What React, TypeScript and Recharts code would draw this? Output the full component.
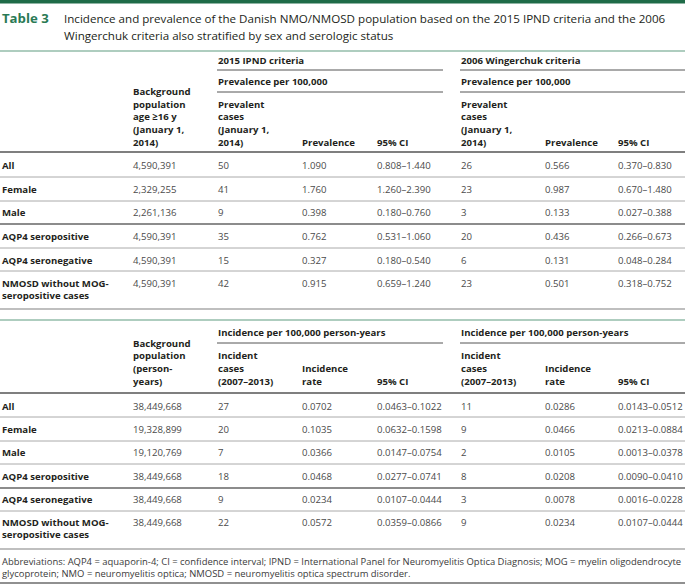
import { ScatterChart, Scatter, XAxis, YAxis, ReferenceLine, ReferenceArea } from "recharts";

const W = 685;
const H = 585;

// ---- table data ----
const ROW_LABELS = [
  ["All"],
  ["Female"],
  ["Male"],
  ["AQP4 seropositive"],
  ["AQP4 seronegative"],
  ["NMOSD without MOG-", "seropositive cases"],
];

const PREV_BACKGROUND = ["4,590,391", "2,329,255", "2,261,136", "4,590,391", "4,590,391", "4,590,391"];
const IPND_PREV_CASES = ["50", "41", "9", "35", "15", "42"];
const IPND_PREVALENCE = ["1.090", "1.760", "0.398", "0.762", "0.327", "0.915"];
const IPND_PREV_CI = ["0.808–1.440", "1.260–2.390", "0.180–0.760", "0.531–1.060", "0.180–0.540", "0.659–1.240"];
const WING_PREV_CASES = ["26", "23", "3", "20", "6", "23"];
const WING_PREVALENCE = ["0.566", "0.987", "0.133", "0.436", "0.131", "0.501"];
const WING_PREV_CI = ["0.370–0.830", "0.670–1.480", "0.027–0.388", "0.266–0.673", "0.048–0.284", "0.318–0.752"];

const INC_BACKGROUND = ["38,449,668", "19,328,899", "19,120,769", "38,449,668", "38,449,668", "38,449,668"];
const IPND_INC_CASES = ["27", "20", "7", "18", "9", "22"];
const IPND_INC_RATE = ["0.0702", "0.1035", "0.0366", "0.0468", "0.0234", "0.0572"];
const IPND_INC_CI = ["0.0463–0.1022", "0.0632–0.1598", "0.0147–0.0754", "0.0277–0.0741", "0.0107–0.0444", "0.0359–0.0866"];
const WING_INC_CASES = ["11", "9", "2", "8", "3", "9"];
const WING_INC_RATE = ["0.0286", "0.0466", "0.0105", "0.0208", "0.0078", "0.0234"];
const WING_INC_CI = ["0.0143–0.0512", "0.0213–0.0884", "0.0013–0.0378", "0.0090–0.0410", "0.0016–0.0228", "0.0107–0.0444"];

const TITLE_LINES = [
  "Incidence and prevalence of the Danish NMO/NMOSD population based on the 2015 IPND criteria and the 2006",
  "Wingerchuk criteria also stratified by sex and serologic status",
];
const FOOTNOTE_LINES = [
  "Abbreviations: AQP4 = aquaporin-4; CI = confidence interval; IPND = International Panel for Neuromyelitis Optica Diagnosis; MOG = myelin oligodendrocyte",
  "glycoprotein; NMO = neuromyelitis optica; NMOSD = neuromyelitis optica spectrum disorder.",
];

// ---- layout ----
const COL_X = [2, 133, 218, 302, 377, 461, 545, 618];
const LINE_H = 12.6;
const GREEN = "#2a7a55";

type Cell = { x: number; y: number; text: string; kind: string };

function headerCells(col: number, lines: string[], bottomY: number): Cell[] {
  return lines.map((t, i) => ({
    x: COL_X[col],
    y: bottomY - (lines.length - 1 - i) * LINE_H,
    text: t,
    kind: "head",
  }));
}

function bodyCells(rowsY: number[], columns: string[][]): Cell[] {
  const out: Cell[] = [];
  rowsY.forEach((y, r) => {
    ROW_LABELS[r].forEach((t, i) => out.push({ x: COL_X[0], y: y + i * LINE_H, text: t, kind: "label" }));
    columns.forEach((col, c) => out.push({ x: COL_X[c + 1], y, text: col[r], kind: "value" }));
  });
  return out;
}

const PREV_ROWS_Y = [165, 189, 212, 236, 260, 283];
const PREV_SEPS = [177, 201, 224, 248, 271];
const INC_ROWS_Y = [406, 429, 452, 476, 499, 522];
const INC_SEPS = [417, 441, 464, 488, 511];

const cells: Cell[] = [
  ...headerCells(2, ["2015 IPND criteria"], 60),
  ...headerCells(5, ["2006 Wingerchuk criteria"], 60),
  ...headerCells(2, ["Prevalence per 100,000"], 81),
  ...headerCells(5, ["Prevalence per 100,000"], 81),
  ...headerCells(1, ["Background", "population", "age ≥16 y", "(January 1,", "2014)"], 142),
  ...headerCells(2, ["Prevalent", "cases", "(January 1,", "2014)"], 142),
  ...headerCells(3, ["Prevalence"], 142),
  ...headerCells(4, ["95% CI"], 142),
  ...headerCells(5, ["Prevalent", "cases", "(January 1,", "2014)"], 142),
  ...headerCells(6, ["Prevalence"], 142),
  ...headerCells(7, ["95% CI"], 142),
  ...bodyCells(PREV_ROWS_Y, [
    PREV_BACKGROUND,
    IPND_PREV_CASES,
    IPND_PREVALENCE,
    IPND_PREV_CI,
    WING_PREV_CASES,
    WING_PREVALENCE,
    WING_PREV_CI,
  ]),
  ...headerCells(2, ["Incidence per 100,000 person-years"], 332),
  ...headerCells(5, ["Incidence per 100,000 person-years"], 332),
  ...headerCells(1, ["Background", "population", "(person-", "years)"], 381),
  ...headerCells(2, ["Incident", "cases", "(2007–2013)"], 381),
  ...headerCells(3, ["Incidence", "rate"], 381),
  ...headerCells(4, ["95% CI"], 381),
  ...headerCells(5, ["Incident", "cases", "(2007–2013)"], 381),
  ...headerCells(6, ["Incidence", "rate"], 381),
  ...headerCells(7, ["95% CI"], 381),
  ...bodyCells(INC_ROWS_Y, [
    INC_BACKGROUND,
    IPND_INC_CASES,
    IPND_INC_RATE,
    IPND_INC_CI,
    WING_INC_CASES,
    WING_INC_RATE,
    WING_INC_CI,
  ]),
  { x: 2, y: 18, text: "Table 3", kind: "tableNo" },
  ...TITLE_LINES.map((t, i) => ({ x: 64, y: 18 + i * 17.5, text: t, kind: "title" })),
  ...FOOTNOTE_LINES.map((t, i) => ({ x: 2, y: 561 + i * 12.6, text: t, kind: "note" })),
];

const STYLES: Record<string, any> = {
  head: { fontWeight: 700, fill: "#231f20", fontSize: 9.6 },
  label: { fontWeight: 700, fill: "#231f20", fontSize: 9.6 },
  value: { fontWeight: 400, fill: "#4a4a4a", fontSize: 9.6 },
  tableNo: { fontWeight: 700, fill: GREEN, fontSize: 13.2 },
  title: { fontWeight: 400, fill: "#231f20", fontSize: 11.6 },
  note: { fontWeight: 400, fill: "#3a3a3a", fontSize: 9.45 },
};

function TextCell(props: any) {
  const { cx, cy, payload } = props;
  if (cx == null || cy == null) return null;
  return (
    <text x={cx} y={cy} dominantBaseline="central" fontFamily="'Open Sans', sans-serif" {...STYLES[payload.kind]}>
      {payload.text}
    </text>
  );
}

function hLine(key: string, y: number, x1: number, x2: number, stroke: string, width: number) {
  return (
    <ReferenceLine
      key={key}
      segment={[
        { x: x1, y },
        { x: x2, y },
      ]}
      stroke={stroke}
      strokeWidth={width}
      ifOverflow="visible"
    />
  );
}

export default function App() {
  return (
    <div style={{ width: W, height: H, background: "#fff" }}>
      <style>{`body{margin:0;}`}</style>
      <ScatterChart width={W} height={H} margin={{ top: 0, right: 0, bottom: 0, left: 0 }}>
        <XAxis type="number" dataKey="x" domain={[0, W]} hide />
        <YAxis type="number" dataKey="y" domain={[0, H]} reversed hide />
        <ReferenceArea x1={0} x2={W} y1={0} y2={3.5} fill="#1f6b48" fillOpacity={1} stroke="none" ifOverflow="visible" />
        {hLine("g1", 51, 0, W, "#5f9c80", 1.2)}
        {hLine("c1a", 70, 217, 443, "#555", 1)}
        {hLine("c1b", 70, 460, W, "#555", 1)}
        {hLine("p1a", 92, 217, 443, "#555", 1)}
        {hLine("p1b", 92, 460, W, "#555", 1)}
        {hLine("h1", 152, 0, W, "#555", 1.4)}
        {PREV_SEPS.map((y, i) => hLine(`s1-${i}`, y, 0, W, i === 2 ? "#666" : "#aaa", i === 2 ? 1.3 : 1))}
        {hLine("b1", 309, 0, W, "#aaa", 1.6)}
        {hLine("g2", 320, 0, W, "#5f9c80", 1.2)}
        {hLine("c2a", 343, 217, 443, "#555", 1)}
        {hLine("c2b", 343, 460, W, "#555", 1)}
        {hLine("h2", 393, 0, W, "#555", 1.4)}
        {INC_SEPS.map((y, i) => hLine(`s2-${i}`, y, 0, W, i === 3 ? "#666" : "#aaa", i === 3 ? 1.3 : 1))}
        {hLine("b2", 549, 0, W, "#aaa", 1.6)}
        {hLine("end", 583, 0, W, "#222", 1.2)}
        <Scatter data={cells} shape={TextCell} isAnimationActive={false} />
      </ScatterChart>
    </div>
  );
}
